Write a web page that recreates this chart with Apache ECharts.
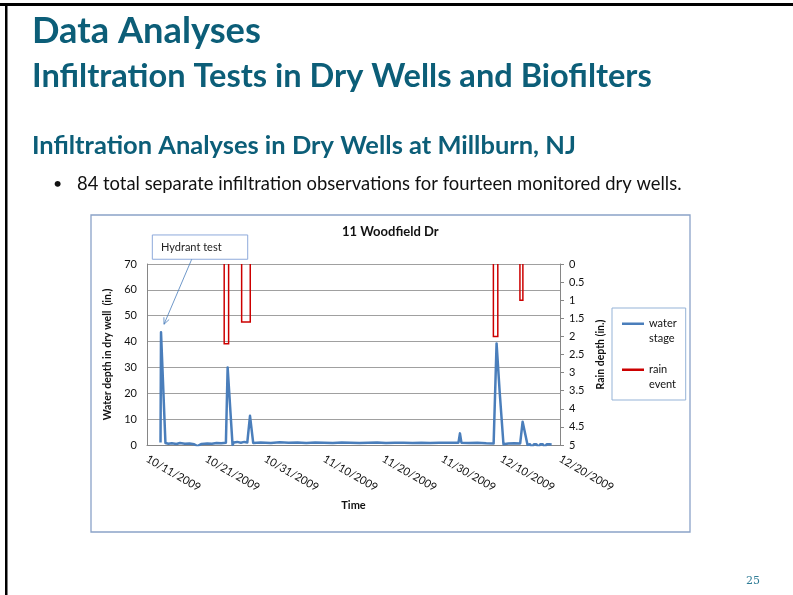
<!DOCTYPE html>
<html>
<head>
<meta charset="utf-8">
<script src="https://cdn.jsdelivr.net/npm/echarts@6/dist/echarts.min.js"></script>
<style>
  html, body { margin: 0; padding: 0; background: #fff; }
  #main { width: 793px; height: 595px; }
</style>
</head>
<body>
<div id="main"></div>
<script>
// Water stage record for the dry well at 11 Woodfield Dr (inches of water in the well)
const waterTime = [
  '2009-10-13 07:00', '2009-10-13 09:00', '2009-10-14 03:00', '2009-10-14 15:00',
  '2009-10-15 05:00', '2009-10-16 00:00', '2009-10-16 14:00', '2009-10-17 10:00',
  '2009-10-18 05:00', '2009-10-19 00:00', '2009-10-19 13:00', '2009-10-20 06:00',
  '2009-10-21 05:00', '2009-10-22 00:00', '2009-10-22 19:00', '2009-10-23 14:00',
  '2009-10-24 09:00', '2009-10-24 11:00', '2009-10-24 16:00', '2009-10-25 12:00',
  '2009-10-25 17:00', '2009-10-26 07:00', '2009-10-26 22:00', '2009-10-27 12:00',
  '2009-10-28 00:00', '2009-10-28 11:00', '2009-10-29 00:00', '2009-10-30 06:00',
  '2009-11-01 00:00', '2009-11-02 12:00', '2009-11-04 00:00', '2009-11-05 12:00',
  '2009-11-07 00:00', '2009-11-08 12:00', '2009-11-10 00:00', '2009-11-11 12:00',
  '2009-11-13 00:00', '2009-11-14 12:00', '2009-11-16 00:00', '2009-11-17 12:00',
  '2009-11-19 00:00', '2009-11-20 12:00', '2009-11-22 00:00', '2009-11-23 12:00',
  '2009-11-25 00:00', '2009-11-26 12:00', '2009-11-28 00:00', '2009-11-29 12:00',
  '2009-12-02 19:00', '2009-12-03 01:00', '2009-12-03 07:00', '2009-12-04 12:00',
  '2009-12-06 00:00', '2009-12-07 12:00', '2009-12-08 18:00', '2009-12-08 23:00',
  '2009-12-09 06:00', '2009-12-09 19:00', '2009-12-10 10:00', '2009-12-11 06:00',
  '2009-12-12 06:00', '2009-12-13 06:00', '2009-12-13 16:00', '2009-12-14 12:00',
  '2009-12-14 22:00', '2009-12-15 06:00', '2009-12-15 14:00', '2009-12-16 00:00',
  '2009-12-16 08:00', '2009-12-16 16:00', '2009-12-17 02:00', '2009-12-17 10:00',
  '2009-12-17 18:00', '2009-12-18 04:00', '2009-12-18 14:00'
];
const waterDepth = [
  1.0, 43.6, 0.8, 0.5,
  0.7, 0.4, 0.8, 0.5,
  0.6, 0.3, -0.4, 0.4,
  0.6, 0.5, 0.8, 0.7,
  0.9, 1.0, 30.0, 0.0,
  1.0, 1.2, 0.9, 1.2,
  1.0, 11.3, 0.8, 1.0,
  0.8, 1.1, 0.9, 1.0,
  0.8, 1.0, 0.9, 0.8,
  1.0, 0.9, 0.8, 0.9,
  1.0, 0.8, 0.9, 0.9,
  0.8, 0.9, 0.8, 0.9,
  0.9, 4.5, 0.9, 0.8,
  0.9, 0.7, 0.6, 0.6,
  39.3, 20.0, 0.3, 0.6,
  0.7, 0.6, 9.0, 0.0,
  0.3, -0.8, 0.3, 0.3,
  -0.8, 0.3, 0.3, -0.8,
  0.3, 0.3, 0.2
];

// Rain events: start, end and total depth (in.)
const rainStart = ['2009-10-24 02:00', '2009-10-27 01:00', '2009-12-08 17:00', '2009-12-13 05:00'];
const rainEnd   = ['2009-10-24 20:00', '2009-10-28 12:00', '2009-12-09 11:00', '2009-12-13 17:00'];
const rainDepth = [2.2, 1.6, 2.0, 1.0];

// Axis tick labels (one every 10 days from the first date)
const dateTicks = ['10/11/2009', '10/21/2009', '10/31/2009', '11/10/2009',
                   '11/20/2009', '11/30/2009', '12/10/2009', '12/20/2009'];
const dayStep = 10;
const waterRange = [0, 70, 10];
const rainRange = [0, 5, 0.5];

const FONT = 'Lato, "Open Sans", sans-serif';
const TEAL = '#0c5e78';
const BLUE = '#4a7ebb';
const RED = '#cc0000';
const AXIS_GRAY = '#868686';

const originUTC = Date.UTC(2009, 9, 11);
function dayOffset(s) {
  const [d, t] = s.split(' ');
  const [Y, M, D] = d.split('-').map(Number);
  const [h, m] = (t || '00:00').split(':').map(Number);
  return (Date.UTC(Y, M - 1, D, h, m) - originUTC) / 86400000;
}

const waterData = waterTime.map((t, i) => [dayOffset(t), waterDepth[i]]);
const rainData = [];
rainStart.forEach((s, i) => {
  const a = dayOffset(s), b = dayOffset(rainEnd[i]);
  rainData.push([a, 0], [a, rainDepth[i]], [b, rainDepth[i]], [b, 0], [b, '-']);
});

// Fit slide heading fonts to their line widths
const measureCtx = document.createElement('canvas').getContext('2d');
function fitSize(text, weight, width) {
  measureCtx.font = weight + ' 100px ' + FONT;
  return 100 * width / measureCtx.measureText(text).width;
}

const headings = [
  { text: 'Data Analyses', y: 31, width: 229, weight: 'bold', x: 32, color: TEAL },
  { text: 'Infiltration Tests in Dry Wells and Biofilters', y: 76, width: 620, weight: 'bold', x: 32, color: TEAL },
  { text: 'Infiltration Analyses in Dry Wells at Millburn, NJ', y: 146, width: 544, weight: 'bold', x: 32, color: TEAL },
  { text: '84 total separate infiltration observations for fourteen monitored dry wells.', y: 184, width: 605, weight: 'normal', x: 77, color: '#111' }
];

const chart = echarts.init(document.getElementById('main'), null, { renderer: 'canvas' });

const axisText = { fontFamily: FONT, fontSize: 11, color: '#111' };
const nameText = { fontFamily: FONT, fontSize: 10.5, fontWeight: 'bold', color: '#111' };

chart.setOption({
  animation: false,
  backgroundColor: '#fff',
  title: {
    text: '11 Woodfield Dr',
    left: 342, top: 225, padding: 0,
    textStyle: { fontFamily: FONT, fontSize: 13, fontWeight: 'bold', color: '#111' }
  },
  legend: {
    orient: 'vertical',
    left: 612, top: 308,
    padding: [8, 9, 8, 10],
    itemGap: 16,
    itemWidth: 22,
    itemHeight: 30,
    borderColor: '#95b3d7',
    borderWidth: 1,
    icon: 'path://M0,6.5h22v2.5h-22z M0,0h0.05v0.05h-0.05z M0,29.95h0.05v0.05h-0.05z',
    formatter: name => name.replace(' ', '\n'),
    textStyle: { fontFamily: FONT, fontSize: 11, lineHeight: 15, color: '#111' },
    data: ['water stage', 'rain event']
  },
  grid: { left: 147, right: 233, top: 264, bottom: 150, containLabel: false, outerBoundsMode: 'none' },
  xAxis: {
    type: 'value',
    min: 0, max: dayStep * (dateTicks.length - 1), interval: dayStep,
    axisLine: { show: true, onZero: false, lineStyle: { color: AXIS_GRAY, width: 1 } },
    axisTick: { show: false },
    splitLine: { show: false },
    axisLabel: {
      ...axisText, rotate: -30, margin: 13,
      formatter: v => dateTicks[Math.round(v / dayStep)] || ''
    },
    name: 'Time', nameLocation: 'middle', nameGap: 55,
    nameTextStyle: { ...nameText, fontSize: 11 }
  },
  yAxis: [
    {
      type: 'value', position: 'left',
      min: waterRange[0], max: waterRange[1], interval: waterRange[2],
      axisLine: { show: true, lineStyle: { color: AXIS_GRAY, width: 1 } },
      axisTick: { show: false },
      splitLine: { show: true, lineStyle: { color: '#a0a0a0', width: 1 } },
      axisLabel: { ...axisText, margin: 10 },
      name: 'Water depth in dry well  (in.)', nameLocation: 'middle', nameGap: 25, nameRotate: 90,
      nameTextStyle: nameText
    },
    {
      type: 'value', position: 'right', inverse: true,
      min: rainRange[0], max: rainRange[1], interval: rainRange[2],
      axisLine: { show: true, lineStyle: { color: AXIS_GRAY, width: 1 } },
      axisTick: { show: true, inside: false, length: 4, lineStyle: { color: AXIS_GRAY } },
      splitLine: { show: false },
      axisLabel: { ...axisText, margin: 9 },
      name: 'Rain depth (in.)', nameLocation: 'middle', nameGap: 31, nameRotate: 90,
      nameTextStyle: nameText
    }
  ],
  series: [
    {
      name: 'water stage', type: 'line',
      xAxisIndex: 0, yAxisIndex: 0,
      data: waterData,
      showSymbol: false, symbol: 'none', clip: true,
      lineStyle: { color: BLUE, width: 2.5, join: 'round' },
      itemStyle: { color: BLUE },
      z: 3
    },
    {
      name: 'rain event', type: 'line',
      xAxisIndex: 0, yAxisIndex: 1,
      data: rainData,
      showSymbol: false, symbol: 'none', connectNulls: false, clip: true,
      lineStyle: { color: RED, width: 1.5, join: 'miter' },
      itemStyle: { color: RED },
      z: 4
    }
  ]
});

// Annotation pointing at the hydrant test peak, plus slide decorations
const peak = chart.convertToPixel({ xAxisIndex: 0, yAxisIndex: 0 }, waterData[1]);
const tip = [peak[0] + 3, peak[1] - 8];
const tail = [tip[0] + 27.7, tip[1] - 65];
const dx = tip[0] - tail[0], dy = tip[1] - tail[1];
const len = Math.hypot(dx, dy), ux = dx / len, uy = dy / len;
const head = 7, spread = 0.42;
function rot(x, y, a) { return [x * Math.cos(a) - y * Math.sin(a), x * Math.sin(a) + y * Math.cos(a)]; }
const w1 = rot(-ux, -uy, spread), w2 = rot(-ux, -uy, -spread);

const graphics = [
  { type: 'rect', silent: true, z: -10, shape: { x: 91, y: 215, width: 599, height: 317 },
    style: { fill: 'none', stroke: '#8aa2c8', lineWidth: 1.3 } },
  { type: 'rect', silent: true, z: 10, shape: { x: 0, y: 3, width: 793, height: 3 }, style: { fill: '#000' } },
  { type: 'rect', silent: true, z: 10, shape: { x: 5, y: 3, width: 2.5, height: 592 }, style: { fill: '#000' } },
  { type: 'rect', silent: true, z: 20, shape: { x: tip[0] - 11.7, y: tip[1] - 89.3, width: 95.4, height: 24.3 },
    style: { fill: '#fff', stroke: '#8eaadb', lineWidth: 1 } },
  { type: 'text', silent: true, z: 21,
    style: { text: 'Hydrant test', x: tip[0] - 3, y: tip[1] - 77, fontFamily: FONT, fontSize: 11, fill: '#222',
             align: 'left', textAlign: 'left', verticalAlign: 'middle', textVerticalAlign: 'middle' } },
  { type: 'line', silent: true, z: 20, shape: { x1: tail[0], y1: tail[1], x2: tip[0], y2: tip[1] },
    style: { stroke: BLUE, lineWidth: 0.8 } },
  { type: 'polyline', silent: true, z: 20,
    shape: { points: [[tip[0] + w1[0] * head, tip[1] + w1[1] * head], tip, [tip[0] + w2[0] * head, tip[1] + w2[1] * head]] },
    style: { stroke: BLUE, lineWidth: 0.8, fill: 'none' } },
  { type: 'text', silent: true, z: 10,
    style: { text: '•', x: 53, y: 184, fontFamily: FONT, fontSize: 16, fill: '#111',
             align: 'left', textAlign: 'left', verticalAlign: 'middle', textVerticalAlign: 'middle' } },
  { type: 'text', silent: true, z: 10,
    style: { text: '25', x: 746, y: 581, fontFamily: '"DejaVu Serif", "Liberation Serif", serif', fontSize: 11, fill: '#2f7c96',
             align: 'left', textAlign: 'left', verticalAlign: 'middle', textVerticalAlign: 'middle' } }
];
headings.forEach(h => {
  graphics.push({
    type: 'text', silent: true, z: 10,
    style: { text: h.text, x: h.x, y: h.y, fontFamily: FONT, fontWeight: h.weight,
             fontSize: fitSize(h.text, h.weight, h.width), fill: h.color,
             align: 'left', textAlign: 'left', verticalAlign: 'middle', textVerticalAlign: 'middle' }
  });
});
chart.setOption({ graphic: graphics });
</script>
</body>
</html>
